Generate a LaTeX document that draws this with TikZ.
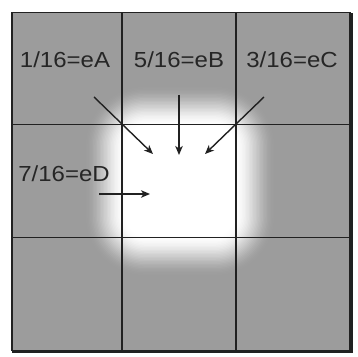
\documentclass[tikz,border=0pt]{standalone}
\usepackage{fontspec}
\usetikzlibrary{arrows.meta,calc}
\newfontfamily\labfont[FakeStretch=1.1]{Liberation Sans}
\definecolor{cellgray}{rgb}{0.61,0.61,0.61}
\definecolor{gridline}{rgb}{0.13,0.13,0.13}
\tikzset{
  lab/.style={font=\labfont\fontsize{21.8}{24}\selectfont, text=black!85, inner sep=0pt, anchor=base},
  gridl/.style={draw=gridline, line width=1.5pt},
  arr/.style={draw=gridline, line width=1.4pt, -{Stealth[length=9pt,width=7.5pt,inset=2.5pt]}}
}
\begin{document}
\begin{tikzpicture}[x=1pt,y=1pt]
\useasboundingbox (0,0) rectangle (358,356);
% cells
\fill[cellgray] (12,5.5) rectangle (350,343.5);
\coordinate (gc) at (180,175);
\begin{scope}
\clip (12,5.5) rectangle (350,343.5);
\foreach \k in {0,...,30}{
  \pgfmathsetmacro\h{97-42*\k/30}
  \pgfmathsetmacro\rc{62-42*\k/30}
  \pgfmathsetmacro\t{\k/30}
  \pgfmathtruncatemacro\p{100*\t*\t*(3-2*\t)}
  \fill[white!\p!cellgray, rounded corners=\rc pt] ($(gc)+(-\h,-\h)$) rectangle ($(gc)+(\h,\h)$);
}
\end{scope}
% grid
\draw[gridl] (12,5.5) rectangle (350,343.5);
\draw[gridl] (122,5.5) -- (122,343.5);
\draw[gridl] (236,5.5) -- (236,343.5);
\draw[gridl] (12,231.7) -- (350,231.7);
\draw[gridl] (12,118.7) -- (350,118.7);
\draw[draw=gridline, line width=3pt] (351.5,4.5) -- (351.5,343);
\draw[draw=gridline, line width=2.5pt] (12,4.5) -- (353,4.5);
% labels
\node[lab] (lA) at (65,288) {1/16=eA};
\node[lab] (lB) at (179,288) {5/16=eB};
\node[lab] (lC) at (292,288) {3/16=eC};
\node[lab] (lD) at (64,174) {7/16=eD};
% arrows
\coordinate (sA) at (94,259);  \coordinate (tA) at (153,202);
\coordinate (sB) at (179,261); \coordinate (tB) at (179,201);
\coordinate (sC) at (264,259); \coordinate (tC) at (205,202);
\coordinate (sD) at (99,162);  \coordinate (tD) at (150,162);
\draw[arr] (sA) -- (tA);
\draw[arr] (sB) -- (tB);
\draw[arr] (sC) -- (tC);
\draw[arr] (sD) -- (tD);
\end{tikzpicture}
\end{document}
